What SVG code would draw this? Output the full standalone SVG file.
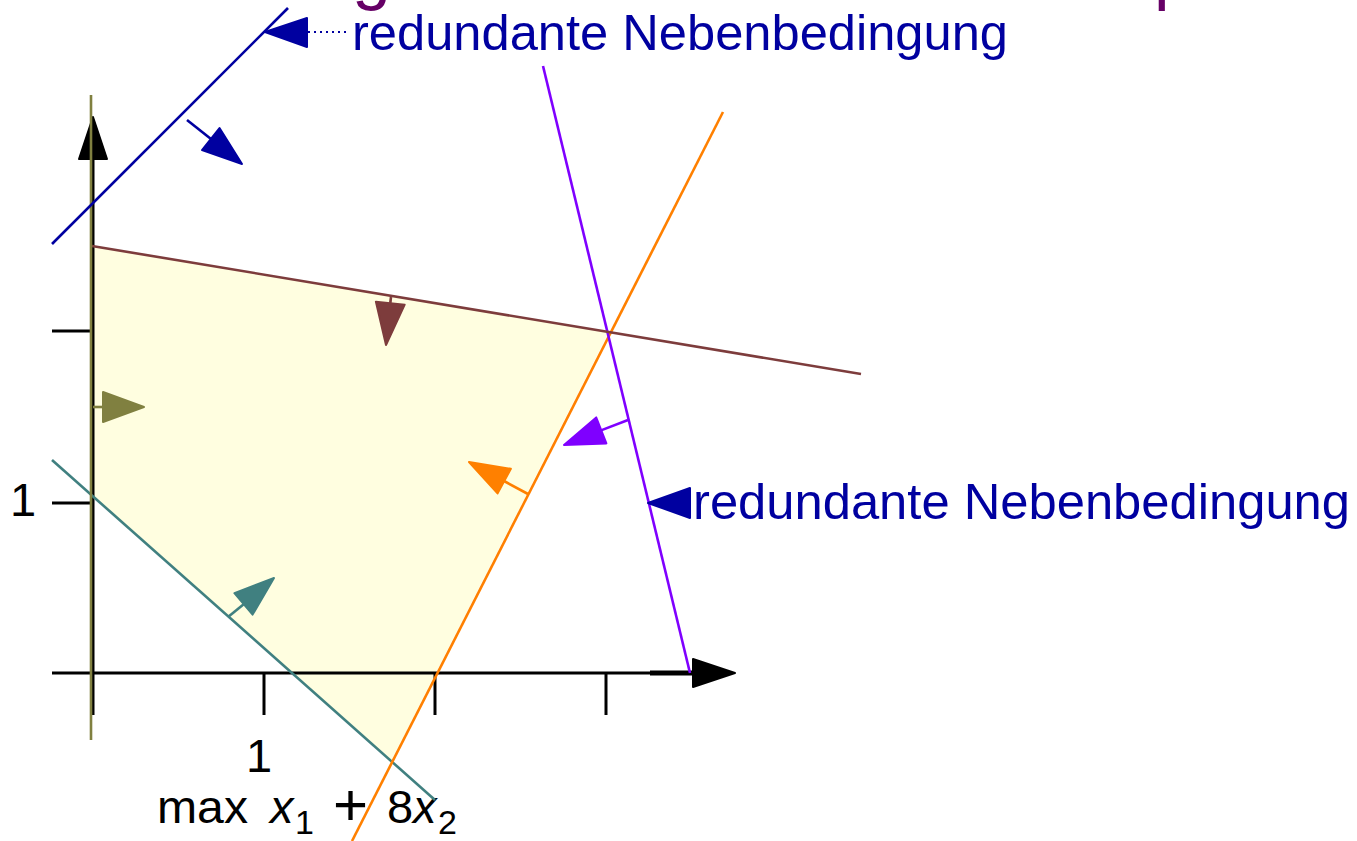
<svg xmlns="http://www.w3.org/2000/svg" width="1357" height="841" viewBox="0 0 1357 841">
<style>
.ax{stroke:#000;stroke-width:3;fill:none}
.head{stroke-linejoin:round;stroke-width:2}
.c{fill:none;stroke-width:2.6}
.lbl{font-family:"Liberation Sans",Arial,sans-serif;font-size:50px;fill:#0000A0}
.num{font-family:"Liberation Sans",Arial,sans-serif;font-size:47px;fill:#000}
.ttl{font-family:"Liberation Sans",Arial,sans-serif;font-size:70px;fill:#660066}
</style>
<rect width="1357" height="841" fill="#fff"/>
<g id="title-fragments">
<text class="ttl" x="352" y="-4">g</text>
<text class="ttl" x="1154" y="-4">p</text>
</g>
<g id="feasible-region">
<polygon points="92,246 609,332 391,761 92,495" fill="#FFFEE0"/>
</g>
<g id="axes">
<line class="ax" x1="52" y1="673" x2="700" y2="673"/>
<line x1="650" y1="673" x2="700" y2="673" stroke="#000" stroke-width="5"/>
<polygon points="735,673 693,659 693,687" fill="#000" stroke="#000" class="head"/>
<line class="ax" x1="93" y1="715" x2="93" y2="150"/>
<polygon points="93,117 79,159 107,159" fill="#000" stroke="#000" class="head"/>
<line class="ax" x1="264" y1="673" x2="264" y2="715"/>
<line class="ax" x1="435" y1="673" x2="435" y2="715"/>
<line class="ax" x1="606" y1="673" x2="606" y2="715"/>
<line class="ax" x1="52" y1="503" x2="93" y2="503"/>
<line class="ax" x1="52" y1="331" x2="93" y2="331"/>
<text class="num" x="23" y="516" text-anchor="middle">1</text>
<text class="num" x="259" y="772" text-anchor="middle">1</text>
</g>
<g id="objective">
<text class="num" y="823"><tspan x="157" textLength="91" lengthAdjust="spacingAndGlyphs">max</tspan><tspan x="270" font-style="italic">x</tspan><tspan x="295" y="834" font-size="34">1</tspan><tspan x="333" y="825" font-size="60">+</tspan><tspan x="387" y="823">8</tspan><tspan x="413" font-style="italic">x</tspan><tspan x="438" y="834" font-size="34">2</tspan></text>
</g>
<g id="constraint-teal">
<line class="c" stroke="#408080" x1="52" y1="460" x2="435" y2="800"/>
<line class="c" stroke="#408080" x1="228" y1="617" x2="244" y2="604"/>
<polygon class="head" fill="#408080" stroke="#408080" points="274,578 252.6,614.6 234.4,593.2"/>
</g>
<g id="constraint-orange">
<line class="c" stroke="#FF8000" x1="352" y1="841" x2="723" y2="112"/>
<line class="c" stroke="#FF8000" x1="528" y1="494" x2="504" y2="481"/>
<polygon class="head" fill="#FF8000" stroke="#FF8000" points="469,462 510.9,468.8 497.5,493.4"/>
</g>
<g id="constraint-violet">
<line class="c" stroke="#7F00FF" x1="543" y1="66" x2="690" y2="673"/>
<line class="c" stroke="#7F00FF" x1="628" y1="420" x2="601" y2="430.4"/>
<polygon class="head" fill="#7F00FF" stroke="#7F00FF" points="564,445 596.2,417.4 606.4,443.4"/>
</g>
<g id="constraint-brown">
<line class="c" stroke="#7D3C3C" x1="92" y1="246" x2="861" y2="374"/>
<line class="c" stroke="#7D3C3C" x1="391" y1="297" x2="390.3" y2="303"/>
<polygon class="head" fill="#7D3C3C" stroke="#7D3C3C" points="386,345 404.7,304.7 375.9,301.7"/>
</g>
<g id="constraint-olive">
<line class="c" stroke="#808040" x1="91" y1="95" x2="91" y2="740"/>
<line class="c" stroke="#808040" x1="93" y1="407" x2="104" y2="407"/>
<polygon class="head" fill="#808040" stroke="#808040" points="144,407 103,392 103,422"/>
</g>
<g id="constraint-blue">
<line class="c" stroke="#0000A0" x1="52" y1="244" x2="288" y2="8"/>
<line class="c" stroke="#0000A0" x1="187" y1="120" x2="211" y2="139"/>
<polygon class="head" fill="#0000A0" stroke="#0000A0" points="242,164 202,150 219.5,128"/>
</g>
<g id="label-top">
<polygon class="head" fill="#0000A0" stroke="#0000A0" points="265,32 307,18 307,47"/>
<line x1="308" y1="32" x2="350" y2="32" stroke="#0000A0" stroke-width="2" stroke-dasharray="2 4"/>
<text class="lbl" x="352" y="50" textLength="656" lengthAdjust="spacingAndGlyphs">redundante Nebenbedingung</text>
</g>
<g id="label-right">
<polygon class="head" fill="#0000A0" stroke="#0000A0" points="648,503 690,488 690,518"/>
<text class="lbl" x="693" y="519" textLength="657" lengthAdjust="spacingAndGlyphs">redundante Nebenbedingung</text>
</g>
</svg>
